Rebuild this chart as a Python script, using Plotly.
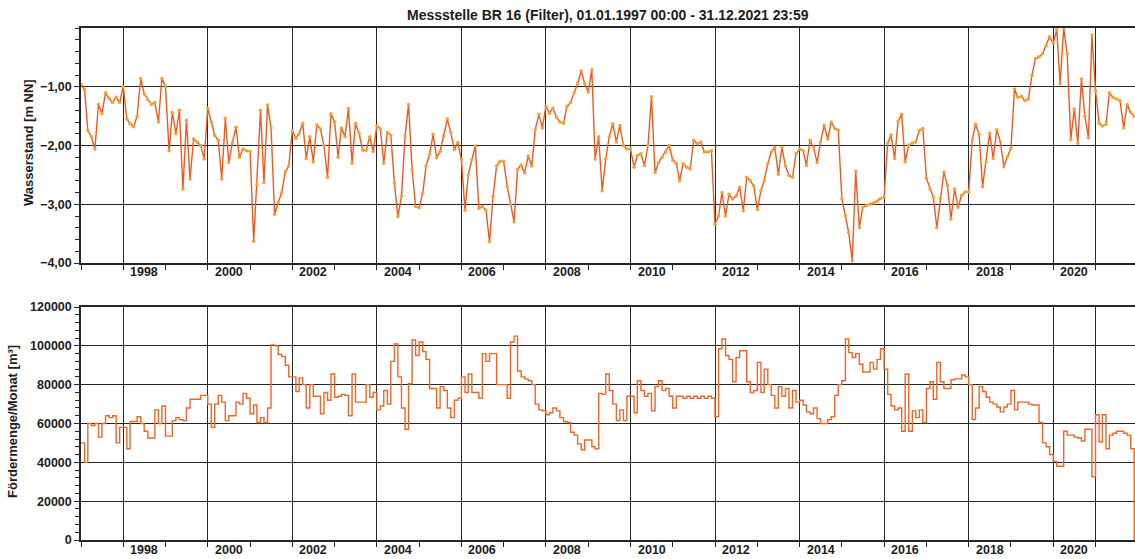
import pandas as pd
import plotly.graph_objects as go

# Monthly groundwater level at BR 16 (m NN), Jan 1997 .. Dec 2021, one row per year
wasserstand = [
    -0.96, -1.05, -1.74, -1.85, -2.06, -1.30, -1.46, -1.10, -1.20, -1.27, -1.18, -1.27,  # 1997
    -1.00, -1.55, -1.63, -1.68, -1.50, -0.86, -1.12, -1.22, -1.30, -1.27, -1.60, -0.86,  # 1998
    -1.00, -2.09, -1.44, -1.80, -1.40, -2.74, -1.57, -2.57, -1.89, -1.94, -2.00, -2.23,  # 1999
    -1.37, -1.60, -1.83, -1.91, -2.57, -1.54, -2.29, -1.95, -1.69, -2.20, -2.06, -2.09,  # 2000
    -2.10, -3.63, -2.66, -1.40, -2.63, -1.31, -1.70, -3.17, -2.97, -2.80, -2.45, -2.35,  # 2001
    -1.75, -1.88, -1.80, -1.62, -2.22, -1.85, -2.28, -1.65, -1.72, -2.00, -2.54, -1.46,  # 2002
    -1.60, -2.20, -1.70, -1.85, -1.37, -2.30, -1.62, -1.80, -2.08, -2.08, -1.85, -2.10,  # 2003
    -1.67, -1.72, -2.30, -1.78, -1.82, -2.64, -3.21, -2.87, -1.84, -1.30, -2.41, -3.04,  # 2004
    -3.06, -2.81, -2.35, -2.15, -1.81, -2.21, -2.10, -1.84, -1.55, -1.78, -2.07, -1.95,  # 2005
    -2.24, -3.10, -2.50, -2.24, -2.01, -3.07, -3.04, -3.10, -3.64, -2.87, -2.35, -2.27,  # 2006
    -2.27, -2.70, -3.00, -3.30, -2.41, -2.33, -2.47, -2.18, -2.35, -1.73, -1.47, -1.70,  # 2007
    -1.33, -1.45, -1.36, -1.52, -1.60, -1.62, -1.33, -1.27, -1.10, -0.95, -0.73, -0.95,  # 2008
    -1.09, -0.71, -2.23, -1.85, -2.77, -2.23, -1.85, -1.63, -1.94, -1.66, -2.00, -2.06,  # 2009
    -2.06, -2.37, -2.17, -2.14, -2.34, -2.00, -1.17, -2.46, -2.29, -2.20, -2.11, -2.00,  # 2010
    -2.25, -2.30, -2.60, -2.31, -2.37, -2.40, -1.91, -1.97, -1.94, -2.11, -2.11, -2.09,  # 2011
    -3.34, -3.20, -2.80, -3.20, -2.83, -2.91, -2.86, -2.71, -3.11, -2.54, -2.60, -2.69,  # 2012
    -3.09, -2.77, -2.60, -2.31, -2.11, -2.03, -2.49, -2.03, -2.35, -2.51, -2.54, -2.14,  # 2013
    -2.06, -2.09, -2.34, -1.91, -2.03, -2.29, -1.94, -1.66, -1.89, -1.60, -1.71, -1.74,  # 2014
    -2.90, -3.20, -3.48, -3.96, -2.44, -3.40, -3.05, -3.02, -3.00, -2.98, -2.95, -2.90,  # 2015
    -2.88, -1.96, -1.82, -2.22, -1.59, -1.47, -2.28, -1.99, -1.96, -1.94, -1.74, -1.71,  # 2016
    -2.56, -2.74, -2.88, -3.40, -2.90, -2.45, -2.68, -3.25, -2.74, -3.05, -2.85, -2.79,  # 2017
    -2.79, -1.90, -1.64, -1.81, -2.70, -2.28, -1.79, -2.22, -1.73, -1.93, -2.36, -2.19,  # 2018
    -2.05, -1.04, -1.18, -1.16, -1.24, -1.21, -0.81, -0.52, -0.49, -0.44, -0.30, -0.15,  # 2019
    -0.26, -0.03, -0.95, 0.00, -0.44, -1.90, -1.38, -1.96, -0.87, -1.50, -1.87, -0.12,  # 2020
    -1.07, -1.62, -1.67, -1.64, -1.10, -1.18, -1.21, -1.24, -1.70, -1.30, -1.44, -1.50,  # 2021
]

# Monthly pumped volume (m³ per month), Jan 1997 .. Dec 2021
foerdermenge = [
    50000, 40000, 60000, 59000, 60000, 53000, 60000, 64000, 63000, 64000, 50000, 58000,  # 1997
    58000, 47000, 61000, 61000, 63500, 60000, 56000, 52500, 52500, 67000, 60000, 69000,  # 1998
    53500, 53500, 61500, 63000, 62000, 61500, 68000, 72500, 72500, 72500, 74500, 74500,  # 1999
    70000, 58000, 70000, 74500, 71000, 61500, 64000, 64000, 71000, 70000, 75500, 73000,  # 2000
    65000, 69500, 60500, 63000, 60500, 68000, 100500, 100000, 95500, 94500, 90000, 84000,  # 2001
    84000, 76500, 83500, 80000, 68000, 80000, 74000, 74000, 65000, 76000, 72000, 85500,  # 2002
    73500, 74000, 75000, 74500, 64000, 85500, 71000, 71000, 71000, 80000, 73500, 76000,  # 2003
    67000, 69000, 77000, 70000, 92000, 101000, 84000, 68000, 57000, 80500, 103000, 95000,  # 2004
    102000, 97000, 93000, 78000, 78000, 68000, 79000, 77000, 68000, 63000, 72000, 73000,  # 2005
    84000, 76000, 85500, 76000, 76000, 73000, 96000, 92000, 96000, 96000, 80000, 80000,  # 2006
    80000, 73000, 102000, 105000, 87000, 84000, 83000, 82000, 80000, 70000, 67000, 66500,  # 2007
    64500, 65500, 68000, 66500, 63000, 61000, 60500, 55500, 54000, 49500, 46500, 51500,  # 2008
    51500, 48000, 47000, 75500, 75000, 85500, 77000, 70000, 61500, 67000, 61500, 74000,  # 2009
    74000, 65500, 82000, 77000, 74000, 75500, 66500, 79000, 82000, 77000, 78000, 74000,  # 2010
    68000, 74000, 74000, 73000, 74000, 73000, 74000, 73000, 74000, 73000, 74000, 73000,  # 2011
    63500, 98500, 103500, 95000, 93000, 81500, 94000, 97500, 97500, 81500, 76000, 77000,  # 2012
    91500, 76000, 88000, 80000, 74500, 68000, 79000, 74000, 78000, 68000, 77000, 71000,  # 2013
    72000, 69500, 66000, 65000, 68000, 62500, 60000, 60000, 62000, 63500, 74500, 80000,  # 2014
    82000, 103500, 96500, 94000, 96000, 90500, 86500, 86500, 91500, 88000, 93000, 98500,  # 2015
    88000, 75000, 69000, 67000, 68000, 56000, 85500, 56000, 66500, 63000, 67000, 60500,  # 2016
    78000, 81500, 72500, 91500, 81500, 78000, 78000, 82500, 83000, 83000, 85000, 84000,  # 2017
    80000, 62000, 68000, 79000, 76500, 73500, 71000, 70000, 68500, 66000, 68500, 70000,  # 2018
    77000, 67000, 71000, 71000, 71000, 70000, 69500, 69500, 60500, 50000, 48000, 44000,  # 2019
    40500, 38000, 38000, 56000, 54000, 54000, 53000, 52500, 51000, 57000, 57000, 32500,  # 2020
    64500, 50500, 64500, 47000, 54000, 55000, 56000, 56000, 55000, 54000, 47000, 0,  # 2021
]

months = pd.date_range("1997-01-01", periods=len(wasserstand), freq="MS")

# x-axis: gridlines every second year plus one at 2021, labels centred in even years
grid_years = [1998, 2000, 2002, 2004, 2006, 2008, 2010, 2012, 2014, 2016, 2018, 2020, 2021]
label_years = [1998, 2000, 2002, 2004, 2006, 2008, 2010, 2012, 2014, 2016, 2018, 2020]

level_ticks = [-1, -2, -3, -4]
volume_ticks = [0, 20000, 40000, 60000, 80000, 100000, 120000]

title_text = "Messstelle BR 16 (Filter), 01.01.1997 00:00 - 31.12.2021 23:59"
level_title = "Wasserstand [m NN]"
volume_title = "Fördermenge/Monat [m³]"

W, H = 1135, 559
L = 81
FONT = "Liberation Sans"
INK = "#1c1c1c"
GRID = "#262626"

fig = go.Figure()

fig.add_trace(go.Scatter(
    x=months, y=wasserstand, mode="lines+markers",
    line=dict(color="#EE5A1E", width=1.4),
    marker=dict(color="#F5A032", size=3.5, line=dict(width=0)),
    xaxis="x", yaxis="y", showlegend=False, hoverinfo="skip",
))
fig.add_trace(go.Scatter(
    x=months, y=foerdermenge, mode="lines", line_shape="hv",
    line=dict(color="#EF6526", width=1.4),
    xaxis="x2", yaxis="y2", showlegend=False, hoverinfo="skip",
))

x_range = ["1997-01-01", "2021-12-08"]
grid_dates = [f"{y}-01-01" for y in grid_years]


def x_axis(anchor):
    return dict(
        type="date", range=x_range, anchor=anchor,
        tickvals=grid_dates, ticktext=[""] * len(grid_dates),
        showgrid=True, gridcolor=GRID, gridwidth=1.3,
        ticks="outside", ticklen=5, tickcolor=GRID, tickwidth=1.3,
        minor=dict(dtick="M12", tick0="1997-01-01", ticks="outside", ticklen=5,
                   tickcolor=GRID, showgrid=False),
        showline=True, linecolor=GRID, linewidth=1.5, mirror=True,
        zeroline=False, automargin=False,
    )


def y_domain(top_px, bottom_px):
    return [1 - bottom_px / H, 1 - top_px / H]


tick_font = dict(family=FONT, size=12.5, color=INK, weight="bold")

fig.update_layout(
    width=W, height=H,
    margin=dict(l=L, r=0, t=0, b=0),
    paper_bgcolor="white", plot_bgcolor="white",
    separators=",.",
    xaxis=dict(**x_axis("y"), domain=[0, 1]),
    xaxis2=dict(**x_axis("y2"), domain=[0, 1]),
    yaxis=dict(
        domain=y_domain(28, 263), range=[-4, 0], anchor="x",
        tickvals=level_ticks, tickformat=".2f", tickfont=tick_font,
        showgrid=True, gridcolor=GRID, gridwidth=1.3,
        ticks="outside", ticklen=5, tickcolor=GRID,
        minor=dict(dtick=0.2, ticks="outside", ticklen=4, tickcolor=GRID, showgrid=False),
        showline=True, linecolor=GRID, linewidth=1.5,
        zeroline=False, automargin=False,
    ),
    yaxis2=dict(
        domain=y_domain(307, 540), range=[0, 120000], anchor="x2",
        tickvals=volume_ticks, tickformat="d", tickfont=tick_font,
        showgrid=True, gridcolor=GRID, gridwidth=1.3,
        ticks="outside", ticklen=5, tickcolor=GRID,
        minor=dict(dtick=4000, ticks="outside", ticklen=4, tickcolor=GRID, showgrid=False),
        showline=True, linecolor=GRID, linewidth=1.5,
        zeroline=False, automargin=False,
    ),
)

# Year labels centred in each labelled year, below both time axes
for xref, ypos in (("x", 1 - 272 / H), ("x2", 1 - 550 / H)):
    for yr in label_years:
        fig.add_annotation(
            x=f"{yr}-07-02", y=ypos, xref=xref, yref="paper",
            text=str(yr), showarrow=False, xanchor="center", yanchor="middle",
            font=tick_font,
        )

# Title and vertical axis titles
fig.add_annotation(
    x=(608 - L) / (W - L), y=1 - 15 / H, xref="paper", yref="paper",
    text=f"<b>{title_text}</b>", showarrow=False, xanchor="center", yanchor="middle",
    font=dict(family=FONT, size=14, color=INK),
)
for txt, xmid, ymid in ((level_title, 28, 143), (volume_title, 13, 422)):
    fig.add_annotation(
        x=(xmid - L) / (W - L), y=1 - ymid / H, xref="paper", yref="paper",
        text=f"<b>{txt}</b>", textangle=-90, showarrow=False,
        xanchor="center", yanchor="middle",
        font=dict(family=FONT, size=13, color=INK),
    )

fig.write_html("out.html", config={"displayModeBar": False})
